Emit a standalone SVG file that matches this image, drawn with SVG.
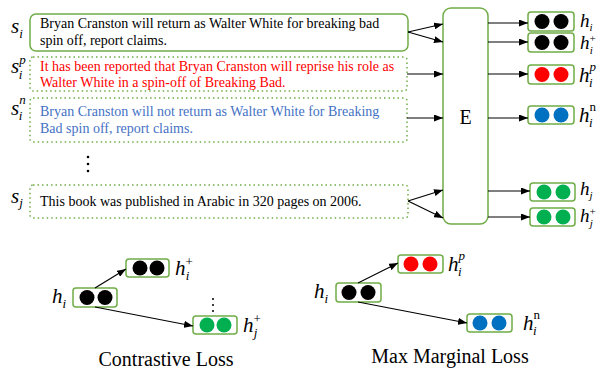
<svg xmlns="http://www.w3.org/2000/svg" width="600" height="370" viewBox="0 0 600 370">
<style>
.t{font-family:"Liberation Serif",serif;font-size:14px;fill:#000}
.red{fill:#FF0000}
.blue{fill:#4472C4}
.m{font-family:"Liberation Serif",serif;font-style:italic;font-size:21px;fill:#000}
.mr{font-family:"Liberation Serif",serif;font-style:italic;font-size:19px;fill:#000}
.s{font-style:italic;font-size:13px}
.s2{font-style:italic;font-size:11px}
.up{font-style:normal;font-size:13px}
.up2{font-style:normal;font-size:11px}
.cap{font-family:"Liberation Serif",serif;font-size:20px;fill:#000}
.solid{fill:#fff;stroke:#70AD47;stroke-width:1.5}
.dotted{fill:none;stroke:#70AD47;stroke-width:1.5;stroke-dasharray:1.5 3}
.vb{fill:#fff;stroke:#70AD47;stroke-width:1.5}
.ln{stroke:#000;stroke-width:1.2;fill:none;marker-end:url(#ah)}
.k{fill:#000}.r{fill:#FF0000}.b{fill:#0070C0}.g{fill:#00B050}
</style>
<defs>
<marker id="ah" markerUnits="userSpaceOnUse" markerWidth="9" markerHeight="7" refX="9" refY="3.5" orient="auto">
<path d="M0,0 L9,3.5 L0,7 z" fill="#000"/>
</marker>
</defs>

<g id="s_i">
<rect class="solid" x="30" y="14" width="378" height="37" rx="6"/>
<text class="t" x="40" y="28">Bryan Cranston will return as Walter White for breaking bad</text>
<text class="t" x="40" y="45">spin off, report claims.</text>
<text class="m" x="11" y="33">s<tspan class="s" dy="5">i</tspan></text>
</g>
<g id="s_ip">
<rect class="dotted" x="30" y="57" width="377" height="34" rx="3"/>
<text class="t red" x="40" y="71">It has been reported that Bryan Cranston will reprise his role as</text>
<text class="t red" x="40" y="87">Walter White in a spin-off of Breaking Bad.</text>
<text class="m" x="11" y="73">s<tspan class="s" dy="-9">p</tspan><tspan class="s" dx="-7" dy="15">i</tspan></text>
</g>
<g id="s_in">
<rect class="dotted" x="30" y="98" width="377" height="44" rx="3"/>
<text class="t blue" x="40" y="116">Bryan Cranston will not return as Walter White for Breaking</text>
<text class="t blue" x="40" y="133">Bad spin off, report claims.</text>
<text class="m" x="11" y="115">s<tspan class="s" dy="-11">n</tspan><tspan class="s" dx="-7" dy="16">i</tspan></text>
</g>
<g id="vdots">
<circle cx="88" cy="157" r="1.3"/><circle cx="88" cy="164" r="1.3"/><circle cx="88" cy="171" r="1.3"/>
</g>
<g id="s_j">
<rect class="dotted" x="30" y="185" width="378" height="33" rx="3"/>
<text class="t" x="40" y="206">This book was published in Arabic in 320 pages on 2006.</text>
<text class="m" x="11" y="203">s<tspan class="s" dy="4">j</tspan></text>
</g>

<g id="E">
<rect class="solid" x="443" y="8" width="45" height="216" rx="8"/>
<text class="cap" x="465.5" y="124" text-anchor="middle">E</text>
</g>

<g id="out_hi">
<rect class="vb" x="528" y="12" width="46" height="19" rx="3"/>
<circle class="k" cx="542" cy="21.5" r="7.5"/><circle class="k" cx="561" cy="21.5" r="7.5"/>
<text class="mr" x="580" y="27">h<tspan class="s2" dy="4">i</tspan></text>
</g>
<g id="out_hip">
<rect class="vb" x="528" y="33" width="46" height="19" rx="3"/>
<circle class="k" cx="542" cy="42.5" r="7.5"/><circle class="k" cx="561" cy="42.5" r="7.5"/>
<text class="mr" x="580" y="49">h<tspan class="up2" dy="-7">+</tspan><tspan class="s2" dx="-6" dy="12">i</tspan></text>
</g>
<g id="out_hpp">
<rect class="vb" x="528" y="65" width="46" height="19" rx="3"/>
<circle class="r" cx="542" cy="74.5" r="7.5"/><circle class="r" cx="561" cy="74.5" r="7.5"/>
<text class="m" x="579" y="82">h<tspan class="s" dy="-11">p</tspan><tspan class="s" dx="-7" dy="16">i</tspan></text>
</g>
<g id="out_hn">
<rect class="vb" x="528" y="106" width="46" height="18" rx="3"/>
<circle class="b" cx="542" cy="115" r="7.5"/><circle class="b" cx="561" cy="115" r="7.5"/>
<text class="m" x="579" y="122">h<tspan class="up" dy="-11">n</tspan><tspan class="s" dx="-7" dy="16">i</tspan></text>
</g>
<g id="out_hj">
<rect class="vb" x="530" y="183" width="45" height="18" rx="3"/>
<circle class="g" cx="544" cy="192" r="7.5"/><circle class="g" cx="563" cy="192" r="7.5"/>
<text class="mr" x="580" y="195">h<tspan class="s2" dy="4">j</tspan></text>
</g>
<g id="out_hjp">
<rect class="vb" x="530" y="208" width="45" height="18" rx="3"/>
<circle class="g" cx="544" cy="217" r="7.5"/><circle class="g" cx="563" cy="217" r="7.5"/>
<text class="mr" x="580" y="222">h<tspan class="up2" dy="-7">+</tspan><tspan class="s2" dx="-6" dy="12">j</tspan></text>
</g>

<g id="cl_hi">
<rect class="vb" x="73" y="288" width="44" height="19" rx="3"/>
<circle class="k" cx="87" cy="297.5" r="7.5"/><circle class="k" cx="105" cy="297.5" r="7.5"/>
<text class="m" x="52" y="303">h<tspan class="s" dy="5">i</tspan></text>
</g>
<g id="cl_hip">
<rect class="vb" x="126" y="259" width="43" height="18" rx="3"/>
<circle class="k" cx="140" cy="268" r="7.5"/><circle class="k" cx="157" cy="268" r="7.5"/>
<text class="m" x="175" y="275">h<tspan class="up" dy="-9">+</tspan><tspan class="s" dx="-7" dy="14">i</tspan></text>
</g>
<g id="cl_dots">
<circle cx="213" cy="299" r="1"/><circle cx="213" cy="305" r="1"/><circle cx="213" cy="311" r="1"/>
</g>
<g id="cl_hjp">
<rect class="vb" x="193" y="316" width="44" height="18" rx="3"/>
<circle class="g" cx="207" cy="325" r="7.5"/><circle class="g" cx="224" cy="325" r="7.5"/>
<text class="m" x="243" y="332">h<tspan class="up" dy="-9">+</tspan><tspan class="s" dx="-7" dy="14">j</tspan></text>
</g>
<text class="cap" x="166" y="366" text-anchor="middle">Contrastive Loss</text>

<g id="mm_hi">
<rect class="vb" x="336" y="283" width="45" height="19" rx="3"/>
<circle class="k" cx="349" cy="292.5" r="7.5"/><circle class="k" cx="368" cy="292.5" r="7.5"/>
<text class="m" x="314" y="298">h<tspan class="s" dy="5">i</tspan></text>
</g>
<g id="mm_hp">
<rect class="vb" x="398" y="255" width="45" height="18" rx="3"/>
<circle class="r" cx="411" cy="264" r="7.5"/><circle class="r" cx="430" cy="264" r="7.5"/>
<text class="m" x="448" y="271">h<tspan class="s" dy="-11">p</tspan><tspan class="s" dx="-7" dy="16">i</tspan></text>
</g>
<g id="mm_hn">
<rect class="vb" x="467" y="314" width="45" height="18" rx="3"/>
<circle class="b" cx="480" cy="323" r="7.5"/><circle class="b" cx="499" cy="323" r="7.5"/>
<text class="m" x="523" y="330">h<tspan class="up" dy="-11">n</tspan><tspan class="s" dx="-7" dy="16">i</tspan></text>
</g>
<text class="cap" x="450" y="363" text-anchor="middle">Max Marginal Loss</text>

<g id="connectors">
<line class="ln" x1="408" y1="32" x2="443" y2="24"/>
<line class="ln" x1="408" y1="32" x2="443" y2="42"/>
<line class="ln" x1="407" y1="74" x2="443" y2="74"/>
<line class="ln" x1="407" y1="118" x2="443" y2="118"/>
<line class="ln" x1="408" y1="201" x2="443" y2="190"/>
<line class="ln" x1="408" y1="201" x2="443" y2="218"/>
<line class="ln" x1="488" y1="23" x2="528" y2="23"/>
<line class="ln" x1="488" y1="42" x2="528" y2="42"/>
<line class="ln" x1="488" y1="74" x2="528" y2="74"/>
<line class="ln" x1="488" y1="118" x2="528" y2="118"/>
<line class="ln" x1="488" y1="191" x2="530" y2="191"/>
<line class="ln" x1="488" y1="217" x2="530" y2="217"/>
<line class="ln" x1="95" y1="288" x2="126" y2="269"/>
<line class="ln" x1="95" y1="307" x2="193" y2="326"/>
<line class="ln" x1="358" y1="283" x2="398" y2="263"/>
<line class="ln" x1="358" y1="302" x2="467" y2="323"/>
</g>
</svg>
